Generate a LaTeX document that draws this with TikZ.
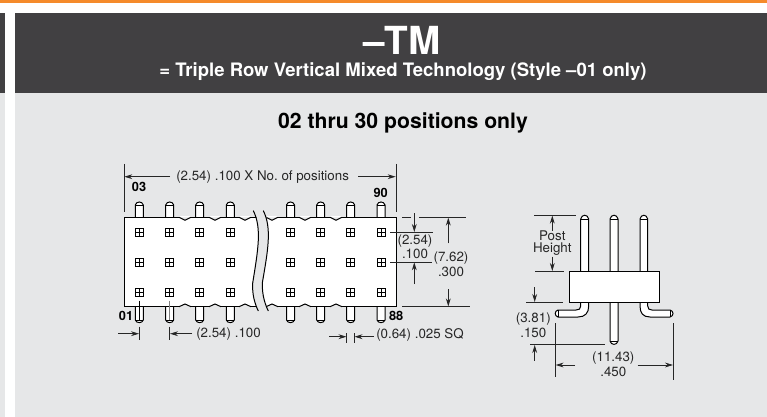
\documentclass[tikz,border=0pt]{standalone}
\usepackage{fontspec}
\setmainfont{TeX Gyre Heros}
\usetikzlibrary{arrows.meta}
\definecolor{barorange}{HTML}{F58A2A}
\definecolor{headdark}{HTML}{414042}
\definecolor{panelgray}{HTML}{E6E7E8}
\tikzset{
	part/.style={draw=black,fill=white,line width=0.75pt},
	dimline/.style={draw=black!85,line width=0.6pt},
	dimarrow/.style={dimline,-{Stealth[length=6pt,width=3.6pt]}},
	dimtext/.style={inner sep=0pt,font=\fontsize{10}{11}\selectfont\frenchspacing,text=black!85},
	pinlabel/.style={inner sep=0pt,font=\fontsize{9.6}{11}\selectfont\bfseries}
}
\begin{document}
\begin{tikzpicture}[x=0.75pt,y=-0.75pt]
	\useasboundingbox (0,0) rectangle (767,417);
	\fill[white] (0,0) rectangle (767,417);
	\fill[barorange] (0,0) rectangle (767,3);
	\fill[headdark] (0,13) rectangle (5,93);
	\fill[panelgray] (0,93) rectangle (5,417);
	\fill[headdark] (15,13) rectangle (767,93);
	\fill[panelgray] (15,93) rectangle (767,417);
	\node[inner sep=0pt,anchor=base,text=white,font=\fontsize{29}{31}\selectfont\bfseries] (title) at (402,55) {–TM};
	\node[inner sep=0pt,anchor=base,text=white,font=\fontsize{13.9}{15}\selectfont\bfseries] (subtitle) at (403,76.7) {= Triple Row Vertical Mixed Technology (Style –01 only)};
	\node[inner sep=0pt,anchor=base,font=\fontsize{15.9}{18}\selectfont\bfseries] (positions) at (403,129) {02 thru 30 positions only};
	% front view
	\foreach \x in {139.3,169.7,199.7,230.3,290.5,320.7,350.7,381} {
		\draw[part] (\x-4,218) -- (\x-4,205) .. controls (\x-3,201) and (\x+3,201) .. (\x+4,205) -- (\x+4,218);
		\draw[line width=0.4pt] (\x-4,205) -- (\x+4,205);
		\draw[part] (\x-4,306) -- (\x-4,320) .. controls (\x-3,323.5) and (\x+3,323.5) .. (\x+4,320) -- (\x+4,306);
		\draw[line width=0.4pt] (\x-4,320) -- (\x+4,320);
	}
	\draw[part] (124,217.3) rectangle (396,306.7);
	\foreach \x in {185,215,245,272,305,336} {
		\draw[white,line width=1.4pt] (\x-6,217.3) -- (\x+6,217.3);
		\filldraw[draw=black,fill=panelgray,line width=0.75pt] (\x-6,217.3) .. controls (\x-3,217.3) and (\x-3,220.3) .. (\x,220.3) .. controls (\x+3,220.3) and (\x+3,217.3) .. (\x+6,217.3);
		\draw[panelgray,line width=1.4pt] (\x-6,306.7) -- (\x+6,306.7);
		\filldraw[draw=black,fill=panelgray,line width=0.75pt] (\x-6,306.7) .. controls (\x-3,306.7) and (\x-3,304) .. (\x,304) .. controls (\x+3,304) and (\x+3,306.7) .. (\x+6,306.7);
	}
	\foreach \x in {139.3,169.7,199.7,230.3,290.5,320.7,350.7,381} {
		\foreach \y in {232.3,262.7,292.7} {
			\draw[line width=0.6pt] (\x-4,\y-4) rectangle (\x+4,\y+4);
			\draw[line width=0.4pt] (\x-4,\y) -- (\x+4,\y) (\x,\y-4) -- (\x,\y+4);
		}
	}
	% break in the body
	\fill[panelgray] (253.3,208) .. controls (262,228) and (258,250) .. (252.7,283) .. controls (252,295) and (255,304) .. (258.3,313) -- (268.3,313) .. controls (265,304) and (262,295) .. (262.3,283) .. controls (268,250) and (272,228) .. (263.3,208) -- cycle;
	\draw[line width=0.75pt] (253.3,210.7) .. controls (262,228) and (258,250) .. (252.7,283) .. controls (252,295) and (255,304) .. (258.3,311);
	\draw[line width=0.75pt] (263.3,210.7) .. controls (272,228) and (268,250) .. (262.3,283) .. controls (262,295) and (265,304) .. (268.3,311);
	\draw[line width=0.5pt] (139.3,300.7) -- (139.3,320);
	\draw[line width=0.5pt,black!50] (169.7,300.7) -- (169.7,320);
	\node[pinlabel] (pinA) at (139,186.7) {03};
	\node[pinlabel] (pinB) at (380.7,193) {90};
	\node[pinlabel] (pinC) at (126,315.7) {01};
	\node[pinlabel] (pinD) at (396.2,315.7) {88};
	% dimensions of the front view
	\draw[dimline] (124,164) -- (124,211.7);
	\draw[dimline] (396,164) -- (396,211.7);
	\node[dimtext,anchor=west] (pitchtop) at (176,176.7) {(2.54) .100 X No. of positions};
	\draw[dimarrow] (170,176.7) -- (124.3,176.7);
	\draw[dimarrow] (358,176.7) -- (395.7,176.7);
	\draw[dimline] (139.3,326.7) -- (139.3,340);
	\draw[dimline] (169.7,326.7) -- (169.7,340);
	\draw[dimarrow] (118,333.7) -- (139,333.7);
	\draw[dimarrow] (192,333.7) -- (170,333.7);
	\node[dimtext,anchor=west] (pitchlow) at (196,333.7) {(2.54) .100};
	\draw[dimline] (346.7,333.3) -- (346.7,343.3);
	\draw[dimline] (354.3,333.3) -- (354.3,343.3);
	\draw[dimarrow] (329.3,336.7) -- (346.5,336.7);
	\draw[dimarrow] (374,336.7) -- (354.5,336.7);
	\node[dimtext,anchor=west] (postsquare) at (376,335) {(0.64) .025 SQ};
	\draw[dimline] (402.3,217.3) -- (410.7,217.3);
	\draw[dimline] (419.3,217.3) -- (466,217.3);
	\draw[dimline] (390,232.3) -- (432.7,232.3);
	\draw[dimline] (390,262) -- (431.7,262);
	\draw[dimline] (402.3,306.7) -- (470,306.7);
	\draw[dimarrow] (414.3,213.3) -- (414.3,232);
	\draw[dimarrow] (414.3,284) -- (414.3,262.3);
	\node[dimtext] (rowpitcha) at (415,240.7) {(2.54)};
	\node[dimtext] (rowpitchb) at (415,254) {.100};
	\draw[dimarrow] (448.3,243.3) -- (448.3,217.6);
	\draw[dimarrow] (448.3,289.3) -- (448.3,306.4);
	\node[dimtext] (rowspana) at (451,257.7) {(7.62)};
	\node[dimtext] (rowspanb) at (451,271.7) {.300};
	% side view
	\draw[part] (580.7,272) -- (580.7,219) .. controls (581.7,214) and (587.7,214) .. (588.7,219) -- (588.7,272);
	\draw[part] (610,272) -- (610,219) .. controls (611,214) and (617,214) .. (618,219) -- (618,272);
	\draw[part] (640,272) -- (640,219) .. controls (641,214) and (646.7,214) .. (647.7,219) -- (647.7,272);
	\draw[line width=0.4pt] (580.7,219) -- (588.7,219) (610,219) -- (618,219) (640,219) -- (647.7,219);
	\draw[part] (610,302) -- (610,341) .. controls (611,345.5) and (617,345.5) .. (618,341) -- (618,302);
	\draw[line width=0.4pt] (610,341) -- (618,341);
	\draw[part] (580.7,302) -- (580.7,306) .. controls (580.7,309) and (579,310) .. (576,310) -- (558,310) .. controls (554.3,311) and (554.3,316) .. (558,317) -- (578,317) .. controls (585,317) and (588.7,313) .. (588.7,306) -- (588.7,302);
	\draw[line width=0.4pt] (558,310) -- (558,317);
	\draw[part] (647.7,302) -- (647.7,306) .. controls (647.7,309) and (649.4,310) .. (652,310) -- (670,310) .. controls (674,311) and (674,316) .. (670,317) -- (650,317) .. controls (643,317) and (640,313) .. (640,306) -- (640,302);
	\draw[line width=0.4pt] (670,310) -- (670,317);
	\draw[part] (569.3,271.7) rectangle (659.7,302.3);
	% dimensions of the side view
	\draw[dimline] (534.3,215.3) -- (576,215.3);
	\draw[dimline] (535,271.3) -- (564,271.3);
	\draw[dimarrow] (552.3,230.7) -- (552.3,215.6);
	\draw[dimarrow] (552.3,256.7) -- (552.3,271);
	\node[dimtext] (posta) at (552.3,236) {Post};
	\node[dimtext] (postb) at (552.3,249.3) {Height};
	\draw[dimline] (526,302.3) -- (562.7,302.3);
	\draw[dimline] (530,344.7) -- (605,344.7);
	\draw[dimarrow] (534.7,287.3) -- (534.7,302);
	\draw[dimarrow] (534.7,360.7) -- (534.7,345);
	\node[dimtext] (tailheighta) at (533.3,319) {(3.81)};
	\node[dimtext] (tailheightb) at (533.3,332.7) {.150};
	\draw[dimline] (555.3,323.3) -- (555.3,376.7);
	\draw[dimline] (673.3,323.3) -- (673.3,380);
	\draw[dimarrow] (575,365) -- (555.6,365);
	\draw[dimarrow] (637.7,365) -- (673,365);
	\node[dimtext] (tailspana) at (613.3,357.7) {(11.43)};
	\node[dimtext] (tailspanb) at (613.3,371.7) {.450};
\end{tikzpicture}
\end{document}
